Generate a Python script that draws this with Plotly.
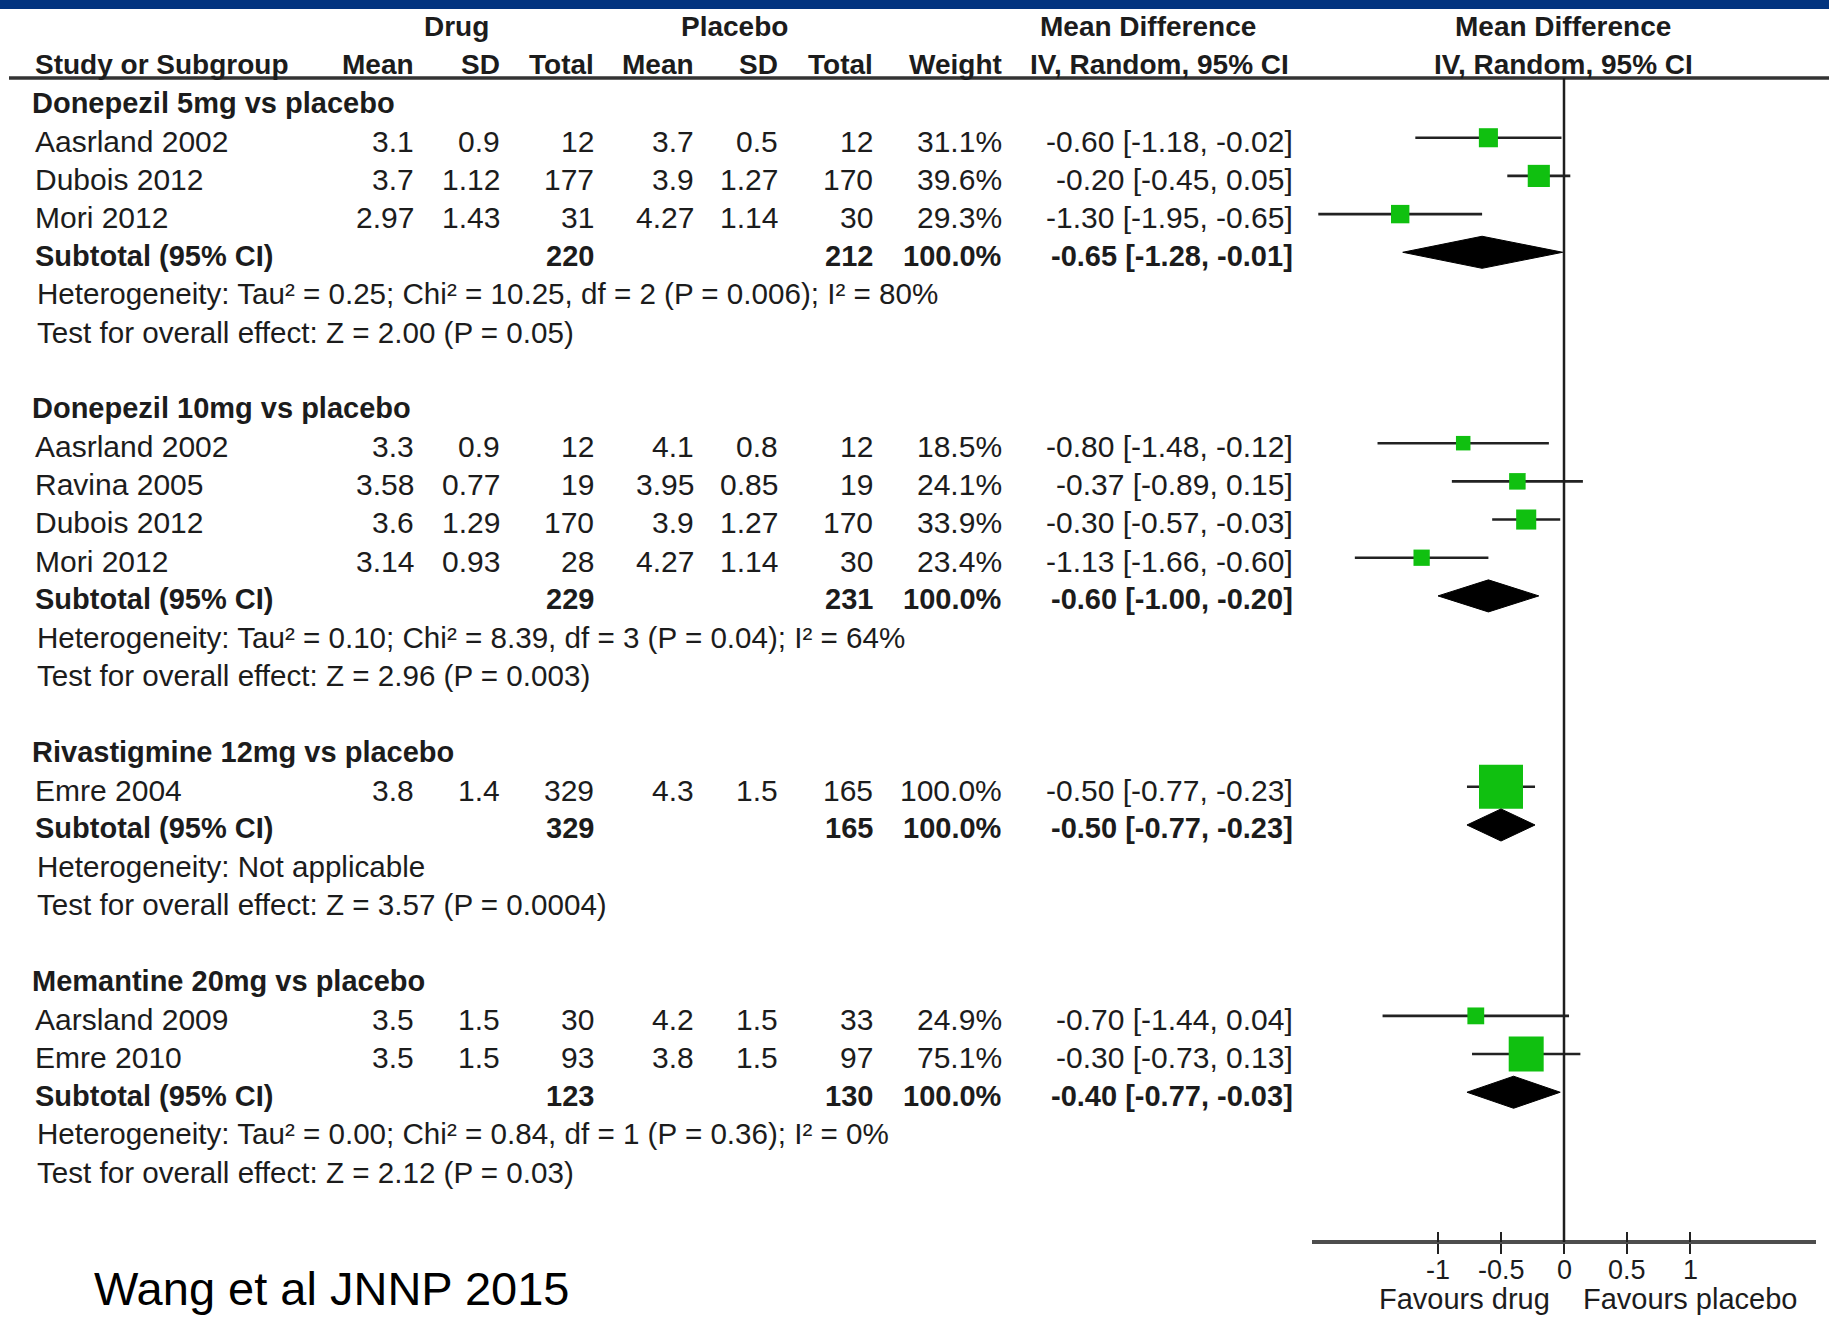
import plotly.graph_objects as go

# ---------------- data ----------------
groups = ["Donepezil 5mg vs placebo", "Donepezil 10mg vs placebo",
          "Rivastigmine 12mg vs placebo", "Memantine 20mg vs placebo"]

study_names = ["Aasrland 2002", "Dubois 2012", "Mori 2012",
               "Aasrland 2002", "Ravina 2005", "Dubois 2012", "Mori 2012",
               "Emre 2004",
               "Aarsland 2009", "Emre 2010"]
study_group = [0, 0, 0, 1, 1, 1, 1, 2, 3, 3]

drug_mean = [3.1, 3.7, 2.97, 3.3, 3.58, 3.6, 3.14, 3.8, 3.5, 3.5]
drug_sd = [0.9, 1.12, 1.43, 0.9, 0.77, 1.29, 0.93, 1.4, 1.5, 1.5]
drug_total = [12, 177, 31, 12, 19, 170, 28, 329, 30, 93]
plac_mean = [3.7, 3.9, 4.27, 4.1, 3.95, 3.9, 4.27, 4.3, 4.2, 3.8]
plac_sd = [0.5, 1.27, 1.14, 0.8, 0.85, 1.27, 1.14, 1.5, 1.5, 1.5]
plac_total = [12, 170, 30, 12, 19, 170, 30, 165, 33, 97]
weight = [31.1, 39.6, 29.3, 18.5, 24.1, 33.9, 23.4, 100.0, 24.9, 75.1]
md = [-0.60, -0.20, -1.30, -0.80, -0.37, -0.30, -1.13, -0.50, -0.70, -0.30]
md_lo = [-1.18, -0.45, -1.95, -1.48, -0.89, -0.57, -1.66, -0.77, -1.44, -0.73]
md_hi = [-0.02, 0.05, -0.65, -0.12, 0.15, -0.03, -0.60, -0.23, 0.04, 0.13]

sub_drug_total = [220, 229, 329, 123]
sub_plac_total = [212, 231, 165, 130]
sub_weight = [100.0, 100.0, 100.0, 100.0]
sub_md = [-0.65, -0.60, -0.50, -0.40]
sub_lo = [-1.28, -1.00, -0.77, -0.77]
sub_hi = [-0.01, -0.20, -0.23, -0.03]

heterogeneity = [
    "Heterogeneity: Tau² = 0.25; Chi² = 10.25, df = 2 (P = 0.006); I² = 80%",
    "Heterogeneity: Tau² = 0.10; Chi² = 8.39, df = 3 (P = 0.04); I² = 64%",
    "Heterogeneity: Not applicable",
    "Heterogeneity: Tau² = 0.00; Chi² = 0.84, df = 1 (P = 0.36); I² = 0%",
]
overall_effect = [
    "Test for overall effect: Z = 2.00 (P = 0.05)",
    "Test for overall effect: Z = 2.96 (P = 0.003)",
    "Test for overall effect: Z = 3.57 (P = 0.0004)",
    "Test for overall effect: Z = 2.12 (P = 0.03)",
]

tick_vals = [-1, -0.5, 0, 0.5, 1]
tick_text = ["-1", "-0.5", "0", "0.5", "1"]
axis_left_label = "Favours drug"
axis_right_label = "Favours placebo"
source_note = "Wang et al JNNP 2015"

# ---------------- layout helpers ----------------
W, H = 1829, 1317
ROW0 = 103.0      # pixel of first row
ROWH = 38.18      # row pitch in pixels


def prow(p):
    return (p - ROW0) / ROWH


def xp(p):
    return p / W


FONT = "Liberation Sans, Arial, Helvetica, sans-serif"
TXT = "#1c1c1c"
GREEN = "#10c010"

annotations = []


def add_text(text, xpx, row, anchor="left", size=30, bold=False, color=TXT,
             xref="paper"):
    annotations.append(dict(
        text=("<b>%s</b>" % text) if bold else text,
        x=xp(xpx) if xref == "paper" else xpx, xref=xref, y=row, yref="y",
        xanchor=anchor, yanchor="middle", showarrow=False,
        font=dict(family=FONT, size=size, color=color)))


def fmt_ci(m, l, h):
    return "%.2f [%.2f, %.2f]" % (m, l, h)


# column right edges (pixels)
C_DM, C_DSD, C_DT = 416, 502, 596
C_PM, C_PSD, C_PT = 696, 780, 875
C_W, C_CI = 1004, 1295
X_NAME = 33

# header
HS = 28
add_text("Drug", 456, -2.0, "center", HS, True)
add_text("Placebo", 734, -2.0, "center", HS, True)
add_text("Mean Difference", 1148, -2.0, "center", HS, True)
add_text("Mean Difference", 1563, -2.0, "center", HS, True)
add_text("Study or Subgroup", X_NAME, -1.0, "left", HS, True)
for t, c in [("Mean", C_DM), ("SD", C_DSD), ("Total", C_DT), ("Mean", C_PM),
             ("SD", C_PSD), ("Total", C_PT), ("Weight", C_W)]:
    add_text(t, c, -1.0, "right", HS, True)
add_text("IV, Random, 95% CI", 1028, -1.0, "left", HS, True)
add_text("IV, Random, 95% CI", 1563, -1.0, "center", HS, True)

# rows
study_rows = []
sub_rows = []
row = 0
for g in range(len(groups)):
    add_text(groups[g], 30, row, "left", 29, True)
    row += 1
    for i in range(len(study_names)):
        if study_group[i] != g:
            continue
        add_text(study_names[i], X_NAME, row)
        add_text(str(drug_mean[i]), C_DM, row, "right")
        add_text(str(drug_sd[i]), C_DSD, row, "right")
        add_text(str(drug_total[i]), C_DT, row, "right")
        add_text(str(plac_mean[i]), C_PM, row, "right")
        add_text(str(plac_sd[i]), C_PSD, row, "right")
        add_text(str(plac_total[i]), C_PT, row, "right")
        add_text("%.1f%%" % weight[i], C_W, row, "right")
        add_text(fmt_ci(md[i], md_lo[i], md_hi[i]), C_CI, row, "right")
        study_rows.append(row)
        row += 1
    add_text("Subtotal (95% CI)", X_NAME, row, "left", 29, True)
    add_text(str(sub_drug_total[g]), C_DT, row, "right", 29, True)
    add_text(str(sub_plac_total[g]), C_PT, row, "right", 29, True)
    add_text("%.1f%%" % sub_weight[g], C_W, row, "right", 29, True)
    add_text(fmt_ci(sub_md[g], sub_lo[g], sub_hi[g]), C_CI, row, "right", 29, True)
    sub_rows.append(row)
    row += 1
    add_text(heterogeneity[g], 35, row, size=29.6)
    row += 1
    add_text(overall_effect[g], 35, row, size=29.6)
    row += 2

# axis tick labels and captions
for v, t in zip(tick_vals, tick_text):
    add_text(t, v, prow(1270), "center", 27, xref="x")
add_text(axis_left_label, 1464, prow(1299), "center", 29)
add_text(axis_right_label, 1690, prow(1299), "center", 29)
add_text(source_note, 92, prow(1288), "left", 47, False, "#000000")

# ---------------- traces ----------------
OFF = -0.09
fig = go.Figure()

# CI lines
lx, ly = [], []
for i, r in enumerate(study_rows):
    lx += [md_lo[i], md_hi[i], None]
    ly += [r + OFF, r + OFF, None]
fig.add_trace(go.Scatter(x=lx, y=ly, mode="lines",
                         line=dict(color="#222222", width=2.6),
                         hoverinfo="skip", showlegend=False))

# study boxes (size from weight)
fig.add_trace(go.Scatter(
    x=md, y=[r + OFF for r in study_rows], mode="markers",
    marker=dict(symbol="square", color=GREEN, opacity=1,
                size=[7.8 + 0.362 * w for w in weight], line=dict(width=0)),
    text=study_names, showlegend=False))

# subtotal diamonds
dx, dy = [], []
HALF = 0.42
for g, r in enumerate(sub_rows):
    y0 = r + OFF
    dx += [sub_lo[g], sub_md[g], sub_hi[g], sub_md[g], sub_lo[g], None]
    dy += [y0, y0 - HALF, y0, y0 + HALF, y0, None]
fig.add_trace(go.Scatter(x=dx, y=dy, mode="lines", fill="toself",
                         fillcolor="#000000", line=dict(color="#000000", width=1),
                         hoverinfo="skip", showlegend=False))

# helper trace for the upward tick axis
fig.add_trace(go.Scatter(x=[None], y=[None], xaxis="x2", yaxis="y",
                         showlegend=False, hoverinfo="skip"))

AX_PX = 1242
axpos = 1 - AX_PX / H
dom = [xp(1312), xp(1816)]

shapes = [
    # top band
    dict(type="rect", xref="paper", yref="paper", x0=0, x1=1,
         y0=1 - 9 / H, y1=1, fillcolor="#02347f", line=dict(width=0), layer="below"),
    # header rule
    dict(type="line", xref="paper", yref="y", x0=xp(9), x1=1,
         y0=prow(78), y1=prow(78), line=dict(color="#333333", width=3.5)),
    # line of no effect
    dict(type="line", xref="x", yref="y", x0=0, x1=0,
         y0=prow(78), y1=prow(AX_PX), line=dict(color="#1e1e1e", width=2.5)),
]

fig.update_layout(
    width=W, height=H,
    margin=dict(l=0, r=0, t=0, b=0),
    paper_bgcolor="white", plot_bgcolor="rgba(0,0,0,0)",
    showlegend=False,
    annotations=annotations,
    shapes=shapes,
    xaxis=dict(domain=dom, range=[-2, 2], anchor="free", position=axpos,
               showgrid=False, zeroline=False, showline=True,
               linecolor="#4d4d4d", linewidth=4,
               tickmode="array", tickvals=tick_vals, showticklabels=False,
               ticks="outside", ticklen=10, tickwidth=2.5, tickcolor="#222222",
               fixedrange=True),
    xaxis2=dict(domain=dom, range=[-2, 2], overlaying="x", anchor="free",
                position=axpos, showgrid=False, zeroline=False, showline=False,
                tickmode="array", tickvals=tick_vals, ticks="inside",
                ticklen=10, tickwidth=2.5, tickcolor="#222222",
                showticklabels=False, fixedrange=True),
    yaxis=dict(domain=[0, 1], range=[prow(H), prow(0)], visible=False,
               showgrid=False, zeroline=False, fixedrange=True),
)

fig.write_html(
    "out.html",
    config={"displayModeBar": False, "staticPlot": True},
    post_script="document.body.style.margin='0';document.body.style.padding='0';"
                "document.body.style.overflow='hidden';",
)
